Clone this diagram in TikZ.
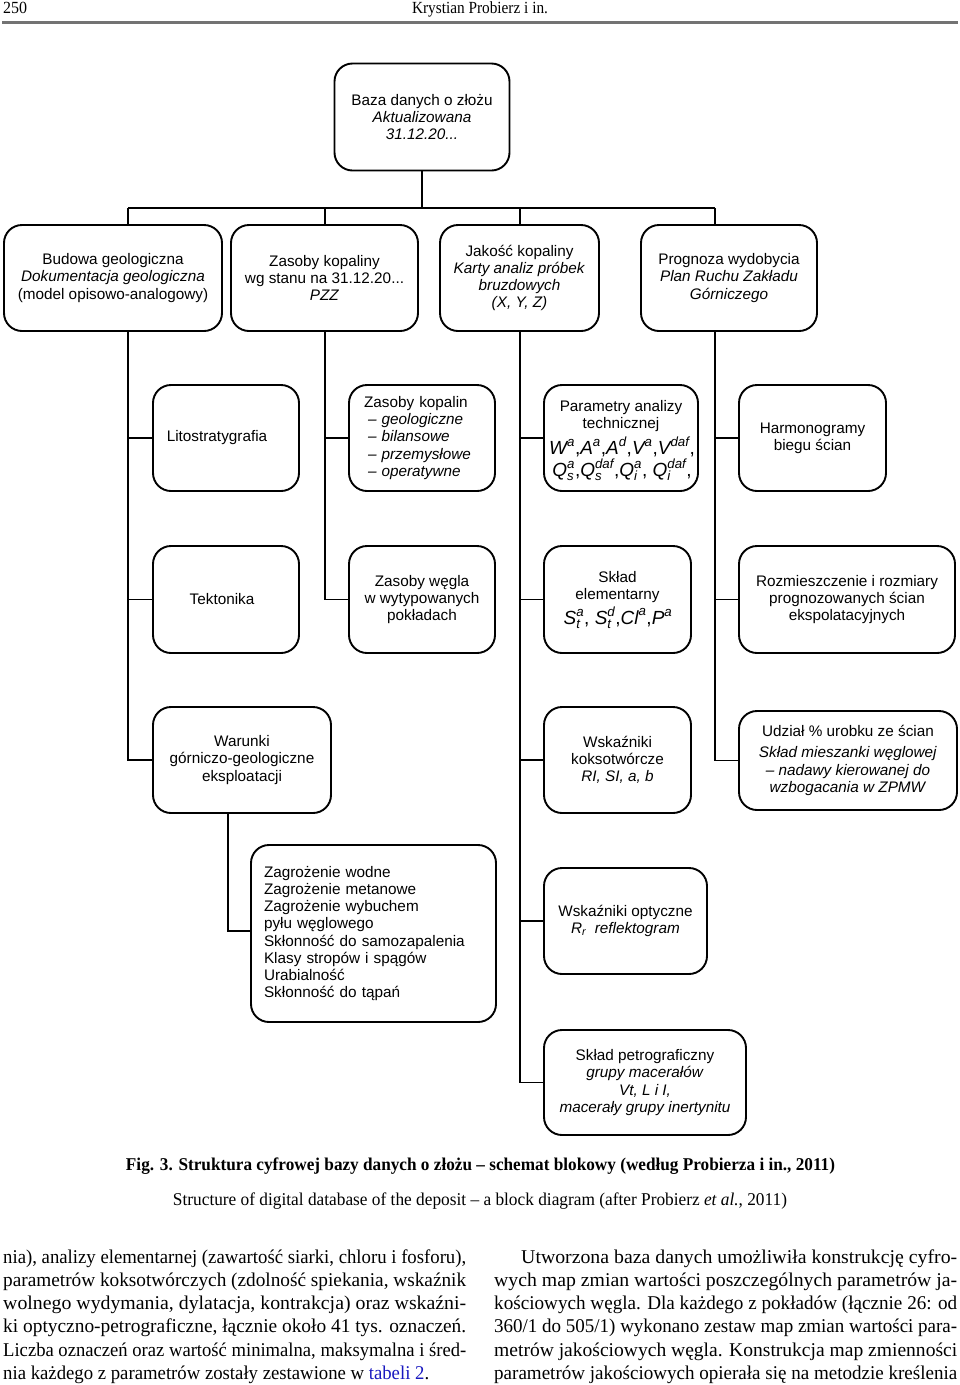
\documentclass[tikz,border=0pt]{standalone}
\usepackage{fontspec}
\usepackage{amsmath}
\usepackage{graphicx}
\setmainfont{Liberation Sans}
\newfontfamily\serifx{Liberation Serif}
\newcommand\dfont{\fontsize{15.3}{17.2}\selectfont}
\newcommand\bigf{\fontsize{19}{22}\selectfont}
\newcommand\mytx[1]{\text{\itshape #1}}
\newcommand\SSb[3]{$\mytx{#1}^{\mytx{#2}}_{\mytx{#3}}$}
\newcommand\Sp[2]{$\mytx{#1}^{\mytx{#2}}$}
\newcommand\fitline[2]{\resizebox{#1}{\height}{#2}}
\definecolor{rulegray}{gray}{0.45}
\definecolor{linkblue}{rgb}{0.1,0.1,0.75}
\begin{document}
\begin{tikzpicture}[x=1pt,y=-1pt,
 box/.style={draw, line width=1.9pt, rounded corners=18pt, align=center, font=\dfont, inner sep=0pt},
 conn/.style={line width=1.9pt},
 txt/.style={inner sep=0pt, align=center, font=\dfont, anchor=base},
 body/.style={inner sep=0pt, anchor=base west, font=\fontsize{19.5}{23}\selectfont\serifx},
 captxt/.style={inner sep=0pt, anchor=base, font=\fontsize{18}{20}\selectfont\serifx},
]
\useasboundingbox (0,0) rectangle (960,1385);

% header
\node[body, font=\fontsize{17}{20}\selectfont\serifx] (pg) at (3,13) {\fitline{24pt}{250}};
\node[captxt, font=\fontsize{17}{20}\selectfont\serifx] (hd) at (480,13) {\fitline{136pt}{Krystian Probierz i in.}};
\draw[rulegray, line width=3pt] (2,22) -- (958,22);

% top box
\node[box, minimum width=175pt, minimum height=107pt] (baza) at (422,117) {Baza danych o złożu\\ \textit{Aktualizowana}\\ \textit{31.12.20...}};

% row 1
\node[box, minimum width=218pt, minimum height=106pt] (bud) at (113,278) {Budowa geologiczna\\ \textit{Dokumentacja geologiczna}\\ (model opisowo-analogowy)};
\node[box, minimum width=187pt, minimum height=106pt] (zk) at (324.5,278) {Zasoby kopaliny\\ wg stanu na 31.12.20...\\ \textit{PZZ}};
\node[box, minimum width=159pt, minimum height=106pt] (jak) at (519.5,278) {Jakość kopaliny\\ \textit{Karty analiz próbek}\\ \textit{bruzdowych}\\ \textit{(X, Y, Z)}};
\node[box, minimum width=176pt, minimum height=106pt] (prog) at (729,278) {Prognoza wydobycia\\ \textit{Plan Ruchu Zakładu}\\ \textit{Górniczego}};

% row 2
\node[box, minimum width=146pt, minimum height=106pt] (lito) at (226,438) {Litostratygrafia\hspace*{18pt}};
\node[box, minimum width=146pt, minimum height=106pt, align=left, text width=116pt, inner xsep=15pt] (zkp) at (422,438) {Zasoby kopalin\\ \hspace*{4pt}\textit{– geologiczne}\\ \hspace*{4pt}\textit{– bilansowe}\\ \hspace*{4pt}\textit{– przemysłowe}\\ \hspace*{4pt}\textit{– operatywne}};
\node[box, minimum width=154pt, minimum height=106pt] (par) at (621,438) {};
\node[txt] (par1) at (621,411.5) {Parametry analizy};
\node[txt] (par2) at (621,428.5) {technicznej};
\node[txt, font=\bigf] (par3) at (622,454) {\Sp{W}{a},\Sp{A}{a},\Sp{A}{d},\Sp{V}{a},\Sp{V}{daf},};
\node[txt, font=\bigf] (par4) at (622,476) {\SSb{Q}{a}{s},\SSb{Q}{daf}{s},\SSb{Q}{a}{i}, \SSb{Q}{daf}{i},};
\node[box, minimum width=147pt, minimum height=106pt] (harm) at (812.5,438) {Harmonogramy\\ biegu ścian};

% row 3
\node[box, minimum width=146pt, minimum height=107pt] (tek) at (226,599.5) {Tektonika\hspace*{8pt}};
\node[box, minimum width=146pt, minimum height=107pt] (zw) at (422,599.5) {Zasoby węgla\\ w wytypowanych\\ pokładach};
\node[box, minimum width=147pt, minimum height=107pt] (sel) at (617.5,599.5) {};
\node[txt] (sel1) at (617.5,582.5) {Skład};
\node[txt] (sel2) at (617.5,599.5) {elementarny};
\node[txt, font=\bigf] (sel3) at (618,624) {\SSb{S}{a}{t}, \SSb{S}{d}{t},\Sp{Cl}{a},\Sp{P}{a}};
\node[box, minimum width=216pt, minimum height=107pt] (rozm) at (847,599.5) {Rozmieszczenie i rozmiary\\ prognozowanych ścian\\ ekspolatacyjnych};

% row 4
\node[box, minimum width=178pt, minimum height=106pt] (war) at (242,760) {Warunki\\ górniczo-geologiczne\\ eksploatacji};
\node[box, minimum width=147pt, minimum height=106pt] (wk) at (617.5,760) {Wskaźniki\\ koksotwórcze\\ \textit{RI, SI, a, b}};
\node[box, minimum width=218pt, minimum height=99pt] (udz) at (848,760.5) {Udział \% urobku ze ścian\\[4pt] \textit{Skład mieszanki węglowej}\\ \textit{– nadawy kierowanej do}\\ \textit{wzbogacania w ZPMW}};

% row 5
\node[box, minimum width=245pt, minimum height=177pt, align=left, text width=219pt, inner xsep=13pt] (zag) at (373.5,933.5) {Zagrożenie wodne\\ Zagrożenie metanowe\\ Zagrożenie wybuchem\\ pyłu węglowego\\ Skłonność do samozapalenia\\ Klasy stropów i spągów\\ Urabialność\\ Skłonność do tąpań};
\node[box, minimum width=163pt, minimum height=106pt] (wo) at (625.5,921) {Wskaźniki optyczne\\ $\mytx{R}_{\mytx{r}}$\ \ \textit{reflektogram}};
\node[box, minimum width=202pt, minimum height=105pt] (petro) at (645,1082.5) {Skład petrograficzny\\ \textit{grupy macerałów}\\ \textit{Vt, L i I,}\\ \textit{macerały grupy inertynitu}};

% connectors
\coordinate (bus) at (422,208);
\coordinate (c1) at (128,208);
\coordinate (c2) at (325,208);
\coordinate (c3) at (520,208);
\coordinate (c4) at (715,208);
\coordinate (w1) at (228,0);
\coordinate (zagin) at (0,931);
\draw[conn] (baza.south) -- (bus);
\draw[conn] (c1) -- (c4);
\draw[conn] (c1) -- (c1 |- bud.north);
\draw[conn] (c2) -- (c2 |- zk.north);
\draw[conn] (c3) -- (c3 |- jak.north);
\draw[conn] (c4) -- (c4 |- prog.north);

\draw[conn] (c1 |- bud.south) |- (war.west);
\draw[conn] (lito.west -| c1) -- (lito.west);
\draw[conn] (tek.west -| c1) -- (tek.west);

\draw[conn] (c2 |- zk.south) |- (zw.west);
\draw[conn] (zkp.west -| c2) -- (zkp.west);

\draw[conn] (c3 |- jak.south) |- (petro.west);
\draw[conn] (par.west -| c3) -- (par.west);
\draw[conn] (sel.west -| c3) -- (sel.west);
\draw[conn] (wk.west -| c3) -- (wk.west);
\draw[conn] (wo.west -| c3) -- (wo.west);

\draw[conn] (c4 |- prog.south) |- (udz.west);
\draw[conn] (harm.west -| c4) -- (harm.west);
\draw[conn] (rozm.west -| c4) -- (rozm.west);

\draw[conn] (war.south -| w1) |- (zag.west |- zagin);

% caption
\node[captxt, font=\fontsize{18}{20}\selectfont\serifx\bfseries] (cap1) at (480.5,1170) {\fitline{709pt}{Fig. 3. Struktura cyfrowej bazy danych o złożu – schemat blokowy (według Probierza i in., 2011)}};
\node[captxt] (cap2) at (480,1205) {\fitline{614pt}{Structure of digital database of the deposit – a block diagram (after Probierz \textit{et al.}, 2011)}};

% body text
\node[body] (l1) at (3,1263) {\fitline{463pt}{nia), analizy elementarnej (zawartość siarki, chloru i fosforu),}};
\node[body] (l2) at (3,1286.3) {\fitline{463pt}{parametrów koksotwórczych (zdolność spiekania, wskaźnik}};
\node[body] (l3) at (3,1309.6) {\fitline{463pt}{wolnego wydymania, dylatacja, kontrakcja) oraz wskaźni-}};
\node[body] (l4) at (3,1332.9) {\fitline{463pt}{ki optyczno-petrograficzne, łącznie około 41 tys. oznaczeń.}};
\node[body] (l5) at (3,1356.2) {\fitline{463pt}{Liczba oznaczeń oraz wartość minimalna, maksymalna i śred-}};
\node[body] (l6) at (3,1379.5) {\fitline{426pt}{nia każdego z parametrów zostały zestawione w {\color{linkblue}tabeli 2}.}};

\node[body] (r1) at (521,1263) {\fitline{436pt}{Utworzona baza danych umożliwiła konstrukcję cyfro-}};
\node[body] (r2) at (494,1286.3) {\fitline{463pt}{wych map zmian wartości poszczególnych parametrów ja-}};
\node[body] (r3) at (494,1309.6) {\fitline{463pt}{kościowych węgla. Dla każdego z pokładów (łącznie 26: od}};
\node[body] (r4) at (494,1332.9) {\fitline{463pt}{360/1 do 505/1) wykonano zestaw map zmian wartości para-}};
\node[body] (r5) at (494,1356.2) {\fitline{463pt}{metrów jakościowych węgla. Konstrukcja map zmienności}};
\node[body] (r6) at (494,1379.5) {\fitline{463pt}{parametrów jakościowych opierała się na metodzie kreślenia}};
\end{tikzpicture}
\end{document}
